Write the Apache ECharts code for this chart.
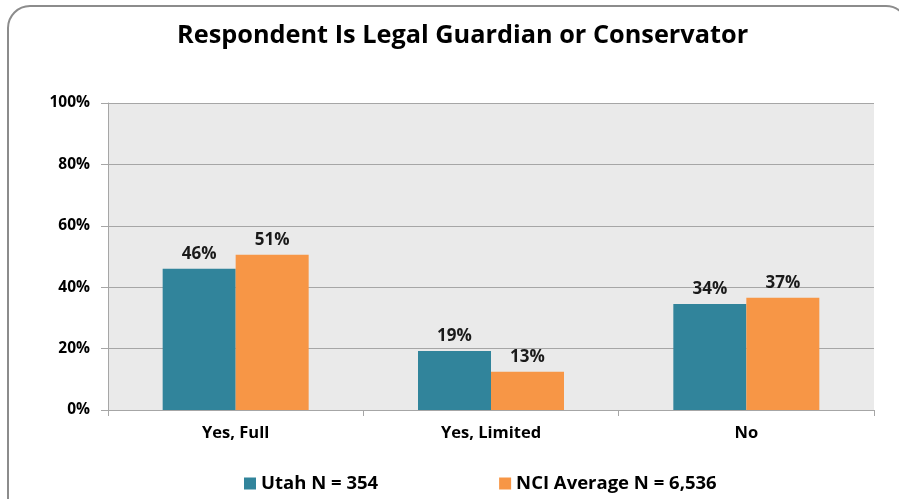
<!DOCTYPE html>
<html>
<head>
<meta charset="utf-8">
<script src="https://cdn.jsdelivr.net/npm/echarts@6/dist/echarts.min.js"></script>
<style>
  html, body { margin: 0; padding: 0; background: #fff; }
  #chartmain { width: 899px; height: 499px; }
</style>
</head>
<body>
<div id="chartmain"></div>
<script>
var categories = ['Yes, Full', 'Yes, Limited', 'No'];
var utahValues = [46, 19.2, 34.5];
var nciValues = [50.6, 12.5, 36.6];
var utahLabels = ['46%', '19%', '34%'];
var nciLabels = ['51%', '13%', '37%'];
var seriesNames = ['Utah N = 354', 'NCI Average N = 6,536'];

var font = '"Open Sans", "DejaVu Sans", sans-serif';

function labelFor(list) {
	return {
		show : true,
		position : 'top',
		distance : 6,
		color : '#1a1a1a',
		fontFamily : font,
		fontWeight : 'bold',
		fontSize : 17,
		formatter : function(p) {
			return list[p.dataIndex];
		}
	};
}

var option = {
	animation : false,
	backgroundColor : '#ffffff',
	graphic : [ {
		type : 'rect',
		shape : { x : 8, y : 6, width : 900, height : 520, r : 22 },
		style : { fill : 'none', stroke : '#8c8c8c', lineWidth : 2 },
		z : -1
	} ],
	title : {
		text : 'Respondent Is Legal Guardian or Conservator',
		left : 172,
		top : 18,
		textStyle : {
			fontFamily : font,
			fontWeight : 'bold',
			fontSize : 25.3,
			color : '#000'
		}
	},
	legend : {
		top : 469,
		left : 239,
		itemGap : 121,
		itemWidth : 12,
		itemHeight : 12,
		icon : 'rect',
		data : seriesNames,
		textStyle : {
			fontFamily : font,
			fontWeight : 'bold',
			fontSize : 18.5,
			color : '#000'
		}
	},
	grid : {
		left : 108,
		right : 25,
		top : 103,
		bottom : 89,
		show : true,
		backgroundColor : '#eaeaea',
		borderWidth : 0
	},
	xAxis : {
		type : 'category',
		data : categories,
		axisLine : { lineStyle : { color : '#a6a6a6', width : 1 } },
		axisTick : { show : true, length : 6, lineStyle : { color : '#a6a6a6' } },
		axisLabel : {
			margin : 15,
			color : '#000',
			fontFamily : font,
			fontWeight : 'bold',
			fontSize : 16.5
		}
	},
	yAxis : {
		type : 'value',
		min : 0,
		max : 100,
		interval : 20,
		axisLine : { show : true, lineStyle : { color : '#a6a6a6' } },
		axisTick : { show : true, length : 7, lineStyle : { color : '#a6a6a6' } },
		splitLine : { lineStyle : { color : '#a6a6a6', width : 1 } },
		axisLabel : {
			margin : 18,
			color : '#000',
			fontFamily : font,
			fontWeight : 'bold',
			fontSize : 15.5,
			formatter : '{value}%'
		}
	},
	series : [ {
		name : seriesNames[0],
		type : 'bar',
		data : utahValues,
		barWidth : 73,
		barGap : '0%',
		itemStyle : { color : '#31849b' },
		label : labelFor(utahLabels)
	}, {
		name : seriesNames[1],
		type : 'bar',
		data : nciValues,
		barWidth : 73,
		barGap : '0%',
		itemStyle : { color : '#f79646' },
		label : labelFor(nciLabels)
	} ]
};

// 初始化echarts实例
var myChart = echarts.init(document.getElementById('chartmain'));
myChart.setOption(option);
</script>
</body>
</html>
